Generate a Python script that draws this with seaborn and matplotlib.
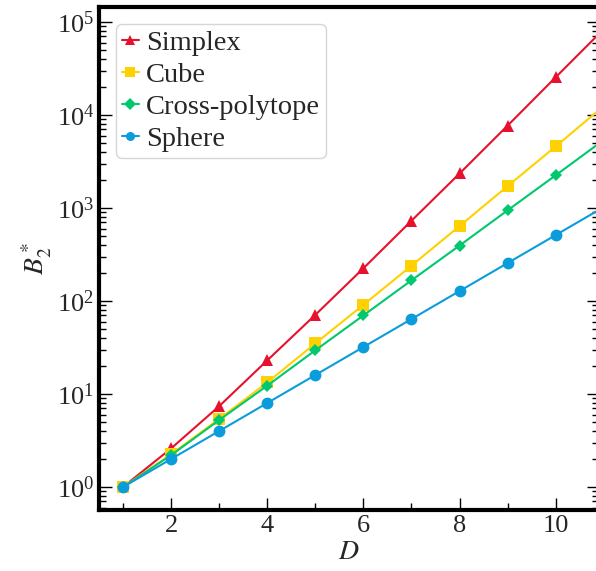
import numpy as np
import pandas as pd
import matplotlib
matplotlib.use("Agg")
import matplotlib.pyplot as plt
import matplotlib.ticker as mticker
import seaborn as sns

D = [1, 2, 3, 4, 5, 6, 7, 8, 9, 10, 11]
simplex = [1, 2.6, 7.4, 23, 71, 225, 730, 2350, 7700, 25500, 84000]
cube = [1, 2.25, 5.4, 13.3, 35, 91, 240, 640, 1720, 4600, 12500]
cross = [1, 2.2, 5.25, 12.3, 29.5, 70, 167, 395, 945, 2250, 5400]
sphere = [1, 2, 4, 8, 16, 32, 64, 128, 256, 512, 1024]
names = ["Simplex", "Cube", "Cross-polytope", "Sphere"]
colors = ["#E8112D", "#FFD100", "#00C86E", "#0B9CDB"]
markers = ["^", "s", "D", "o"]

rows = []
for n, vals in zip(names, [simplex, cube, cross, sphere]):
    for d, v in zip(D, vals):
        rows.append({"D": d, "B": v, "shape": n})
df = pd.DataFrame(rows)

sns.set_theme(style="ticks")
plt.rcParams["font.family"] = ["Liberation Serif", "DejaVu Serif"]
plt.rcParams["mathtext.fontset"] = "stix"

fig = plt.figure(figsize=(5.96, 5.71), dpi=100)
ax = fig.add_axes([99/596, 61/571, 500/596, 503/571])

sns.lineplot(data=df, x="D", y="B", hue="shape", style="shape",
             palette=dict(zip(names, colors)), markers=dict(zip(names, markers)),
             dashes=False, markersize=8.5, markeredgewidth=0, linewidth=1.5, ax=ax)
for line in ax.lines:
    if line.get_marker() == "D":
        line.set_markersize(6.5)

ax.set_yscale("log")
ax.set_xlim(0.5, 10.9)
ax.set_ylim(0.566, 1.45e5)
ax.set_xticks([2, 4, 6, 8, 10])
ax.set_xticks([1, 3, 5, 7, 9], minor=True)
ax.yaxis.set_minor_locator(mticker.LogLocator(base=10, subs=np.arange(2, 10), numticks=20))
ax.yaxis.set_minor_formatter(mticker.NullFormatter())
ax.tick_params(which="both", direction="in", labelsize=19, right=True, top=False,
               color="black", left=True, bottom=True)
ax.tick_params(which="major", length=9, width=1)
ax.tick_params(which="minor", length=5, width=1)
for s in ["left", "bottom", "top"]:
    ax.spines[s].set_linewidth(3)
    ax.spines[s].set_color("black")
ax.spines["right"].set_linewidth(0.8)
ax.spines["right"].set_color("#aaaaaa")
ax.set_xlabel("$D$", fontsize=20, labelpad=2)
ax.set_ylabel("$B_2^*$", fontsize=20, labelpad=2)

leg = ax.legend(title=None, loc="upper left", fontsize=20.5, frameon=True,
                handlelength=0.6, handletextpad=0.25, borderpad=0.2, labelspacing=0.22,
                borderaxespad=0.6, fancybox=True)
for h in leg.legend_handles:
    h.set_markersize(6.5)
leg.get_frame().set_edgecolor("#cccccc")
leg.get_frame().set_linewidth(1)

fig.savefig("out.png", dpi=100)
